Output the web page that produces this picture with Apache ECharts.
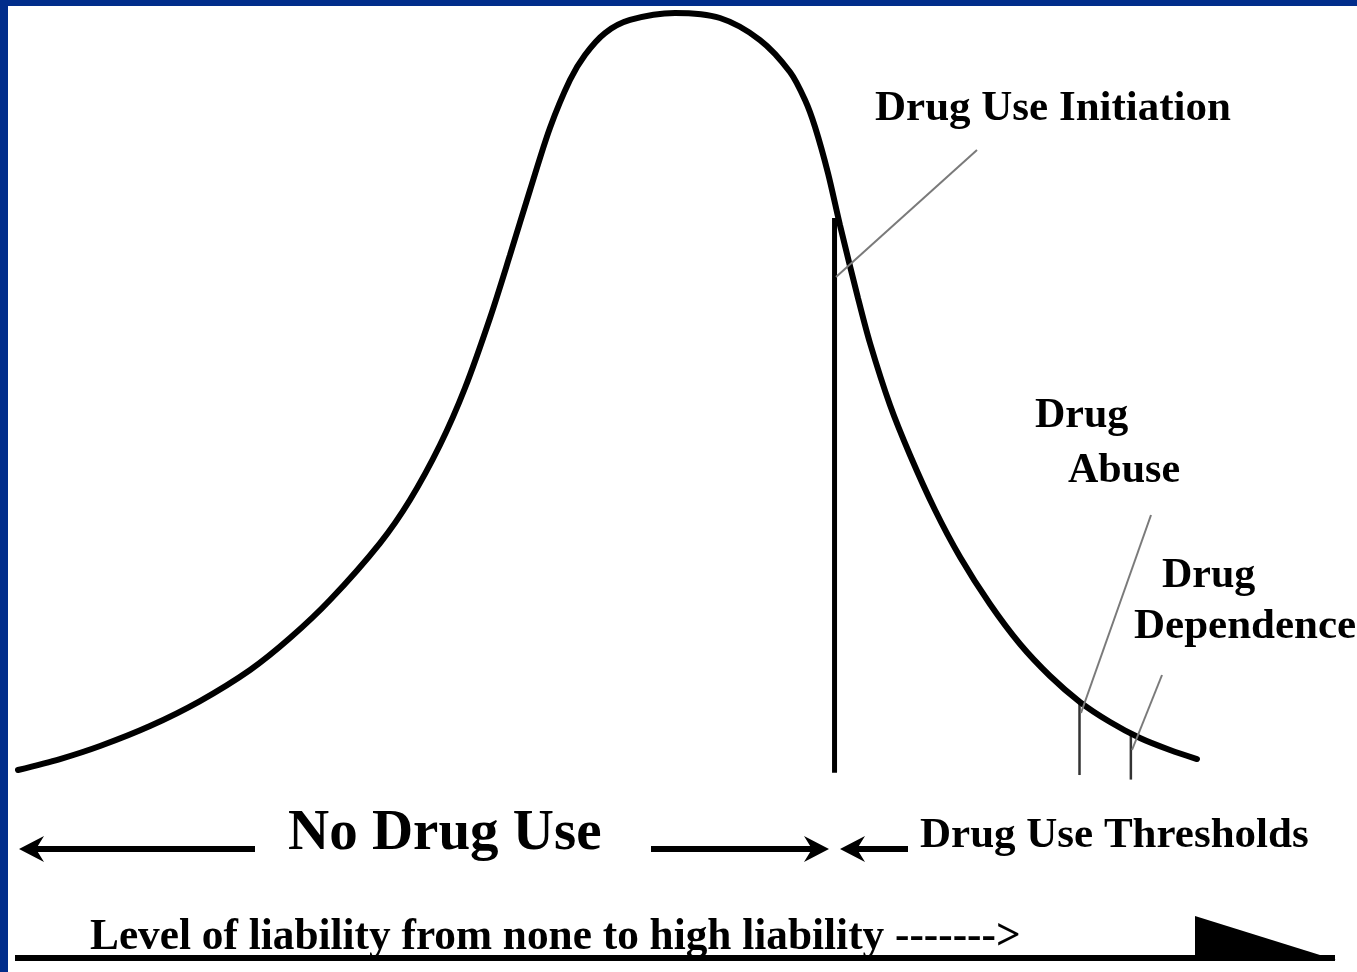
<!DOCTYPE html>
<html>
<head>
<meta charset="utf-8">
<script src="https://cdn.jsdelivr.net/npm/echarts@6/dist/echarts.min.js"></script>
<style>
html,body{margin:0;padding:0;background:#fff;}
#chart{width:1357px;height:972px;}
</style>
</head>
<body>
<div id="chart"></div>
<script>
// Liability scale (0 = none, 100 = high) and relative frequency (peak = 100)
const liability = [0, 3.19, 6.23, 10.02, 13.82, 17.62, 20.65, 23.69, 27.49, 29.76, 32.04, 33.94, 35.84, 37.36, 38.88, 40.39, 41.91, 43.05, 44.57, 46.47, 49.89,
  53.30, 56.34, 58.62, 59.76, 60.52, 61.50, 62.41, 63.78, 64.69, 66.21, 67.73, 69.63, 71.53, 73.80, 76.08, 78.36, 80.64, 82.92, 85.19, 87.47, 89.52];
const frequency = [0.26, 1.71, 3.43, 6.06, 9.35, 13.44, 17.65, 22.66, 30.17, 35.84, 43.08, 50.59, 59.82, 68.12, 76.68, 84.85, 91.17, 94.47, 97.36, 99.08, 100,
  99.34, 96.44, 92.23, 88.54, 84.98, 78.92, 72.07, 62.45, 56.52, 48.35, 41.77, 34.52, 28.33, 22.13, 16.86, 12.65, 9.22, 6.59, 4.48, 2.90, 1.71];

// Thresholds
const thresholdNames = ['Drug Use Initiation', 'Drug Abuse', 'Drug Dependence'];
const thresholdAt = [62.0, 80.6, 84.5];
const thresholdTop = [73.0, 9.1, 4.9];
const thresholdBottom = [-0.1, -0.4, -1.0];

const labels = {
  initiation: 'Drug Use Initiation',
  abuse: ['Drug', 'Abuse'],
  dependence: ['Drug', 'Dependence'],
  noUse: 'No Drug Use',
  thresholds: 'Drug Use Thresholds',
  axis: 'Level of liability from none to high liability ------->'
};

const chart = echarts.init(document.getElementById('chart'));
const FONT = '"Liberation Serif", "Times New Roman", serif';
const blue = '#012d8b';

const thresholdSeries = thresholdAt.map((x, i) => ({
  name: thresholdNames[i],
  type: 'line',
  data: [[x, thresholdTop[i]], [x, thresholdBottom[i]]],
  symbol: 'none',
  clip: false,
  silent: true,
  z: 3,
  lineStyle: { color: i === 0 ? '#000' : '#333', width: i === 0 ? 5 : 2.5 }
}));

function txt(text, x, y, size) {
  return { type: 'text', x: x, y: y, z: 10, style: { text: text, font: 'bold ' + size + 'px ' + FONT, fill: '#000', align: 'left', verticalAlign: 'middle' } };
}
function line(x1, y1, x2, y2, w, c) {
  return { type: 'line', z: 5, shape: { x1, y1, x2, y2 }, style: { stroke: c, lineWidth: w } };
}
function head(tipX, y, dir) {
  const b = 25 * -dir, n = 17 * -dir;
  return { type: 'polygon', z: 6, shape: { points: [[tipX, y], [tipX + b, y - 13], [tipX + n, y], [tipX + b, y + 13]] }, style: { fill: '#000' } };
}

chart.setOption({
  animation: false,
  backgroundColor: '#fff',
  grid: { left: 18, right: 22, top: 13, bottom: 200 },
  xAxis: { type: 'value', min: 0, max: 100, show: false },
  yAxis: { type: 'value', min: 0, max: 100, show: false },
  series: [{
    name: 'Liability distribution',
    type: 'line',
    data: liability.map((x, i) => [x, frequency[i]]),
    smooth: 0.3,
    symbol: 'none',
    clip: false,
    z: 4,
    lineStyle: { color: '#000', width: 6, cap: 'round' }
  }].concat(thresholdSeries),
  graphic: [
    { type: 'rect', z: 20, shape: { x: 0, y: 0, width: 1357, height: 6 }, style: { fill: blue } },
    { type: 'rect', z: 20, shape: { x: 0, y: 0, width: 8, height: 972 }, style: { fill: blue } },
    line(977, 150, 836, 277, 2, '#7a7a7a'),
    line(1151, 515, 1081, 713, 2, '#7a7a7a'),
    line(1162, 675, 1132, 750, 2, '#7a7a7a'),
    txt(labels.initiation, 875, 109, 43),
    txt(labels.abuse[0], 1035, 416, 42),
    txt(labels.abuse[1], 1068, 471, 42),
    txt(labels.dependence[0], 1162, 576, 42),
    txt(labels.dependence[1], 1134, 627, 43),
    txt(labels.noUse, 288, 834, 57),
    txt(labels.thresholds, 920, 836, 43),
    txt(labels.axis, 90, 938, 43.3),
    line(255, 849, 30, 849, 6, '#000'), head(19, 849, -1),
    line(651, 849, 818, 849, 6, '#000'), head(829, 849, 1),
    line(908, 849, 850, 849, 6, '#000'), head(840, 849, -1),
    line(15, 958, 1335, 958, 6, '#000'),
    { type: 'polygon', z: 6, shape: { points: [[1195, 916], [1195, 960], [1336, 960]] }, style: { fill: '#000' } }
  ]
});
</script>
</body>
</html>
